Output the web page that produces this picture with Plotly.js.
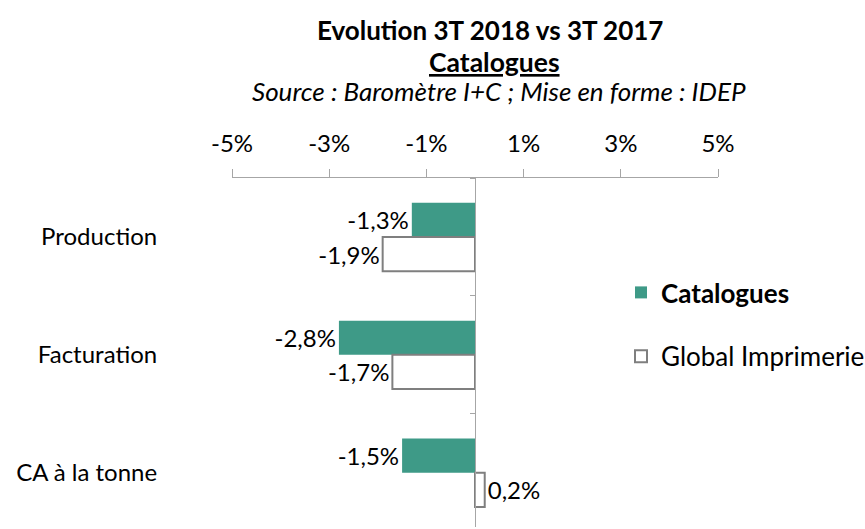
<!DOCTYPE html>
<html>
<head>
<meta charset="utf-8">
<script src="https://cdn.plot.ly/plotly-3.0.1.min.js"></script>
<style>html,body{margin:0;padding:0;background:#fff;}#chart{width:865px;height:529px;}</style>
</head>
<body>
<div id="chart"></div>
<script>
const categories = ["Production", "Facturation", "CA à la tonne"];
const catalogues = [-1.3, -2.8, -1.5];
const globalImprimerie = [-1.9, -1.7, 0.2];
const tickValues = [-5, -3, -1, 1, 3, 5];
const tickLabels = ["-5%", "-3%", "-1%", "1%", "3%", "5%"];

const fmt = v => v.toFixed(1).replace('.', ',') + '%';
const FONT = "Lato, 'Open Sans', sans-serif";

const traces = [
  {
    type: 'bar', orientation: 'h', name: '<b>Catalogues</b>',
    y: categories, x: catalogues,
    text: catalogues.map(fmt), textposition: 'outside', cliponaxis: false,
    textfont: {family: FONT, size: 24, color: '#000'},
    marker: {color: '#3E9A87', line: {width: 0}},
    legendgroup: 'a', hoverinfo: 'skip'
  },
  {
    type: 'bar', orientation: 'h', name: 'Global Imprimerie',
    y: categories, x: globalImprimerie,
    text: globalImprimerie.map(fmt), textposition: 'outside', cliponaxis: false,
    textfont: {family: FONT, size: 24, color: '#000'},
    marker: {color: '#FFFFFF', line: {color: '#7F7F7F', width: 2}},
    legendgroup: 'b', hoverinfo: 'skip'
  }
];

const layout = {
  width: 865, height: 529,
  margin: {l: 232, r: 147, t: 178, b: 2, autoexpand: false},
  paper_bgcolor: '#fff', plot_bgcolor: 'rgba(0,0,0,0)',
  font: {family: FONT, size: 24, color: '#000'},
  showlegend: true,
  barmode: 'group', bargap: 0.42, bargroupgap: 0,
  xaxis: {
    side: 'top', range: [-5, 5], fixedrange: true,
    tickvals: tickValues, ticktext: tickLabels,
    showgrid: false, zeroline: false,
    showline: true, linecolor: '#A6A6A6', linewidth: 1,
    ticks: 'outside', ticklen: 8, tickcolor: '#A6A6A6',
    ticklabelstandoff: 7, automargin: false,
    tickfont: {family: FONT, size: 24}
  },
  yaxis: {
    type: 'category', categoryarray: categories,
    range: [2.46, -0.5],
    anchor: 'free', position: 0.5,
    showgrid: false, zeroline: false,
    showline: true, linecolor: '#A6A6A6', linewidth: 1,
    ticks: 'outside', ticklen: 5, tickcolor: '#A6A6A6',
    tickson: 'boundaries',
    ticklabelstandoff: 313,
    automargin: false,
    tickfont: {family: FONT, size: 24}
  },
  legend: {
    x: (621 - 232) / 486, y: 1 - (269 - 178) / 349, xanchor: 'left', yanchor: 'top',
    bgcolor: 'rgba(0,0,0,0)', traceorder: 'grouped',
    tracegroupgap: 27,
    font: {family: FONT, size: 26}
  },
  annotations: [
    {text: '<b>Evolution 3T 2018 vs 3T 2017</b>', xref: 'paper', yref: 'paper',
     x: (490 - 232) / 486, y: 1, yshift: 178 - 30, showarrow: false,
     xanchor: 'center', yanchor: 'middle', font: {family: FONT, size: 26}},
    {text: '<b><u>Catalogues</u></b>', xref: 'paper', yref: 'paper',
     x: (494 - 232) / 486, y: 1, yshift: 178 - 62, showarrow: false,
     xanchor: 'center', yanchor: 'middle', font: {family: FONT, size: 26.5}},
    {text: '<i>Source : Baromètre I+C ; Mise en forme : IDEP</i>', xref: 'paper', yref: 'paper',
     x: (499 - 232) / 486, y: 1, yshift: 178 - 91, showarrow: false,
     xanchor: 'center', yanchor: 'middle', font: {family: FONT, size: 26}}
  ]
};

Plotly.newPlot('chart', traces, layout, {displayModeBar: false, staticPlot: true});
</script>
</body>
</html>
